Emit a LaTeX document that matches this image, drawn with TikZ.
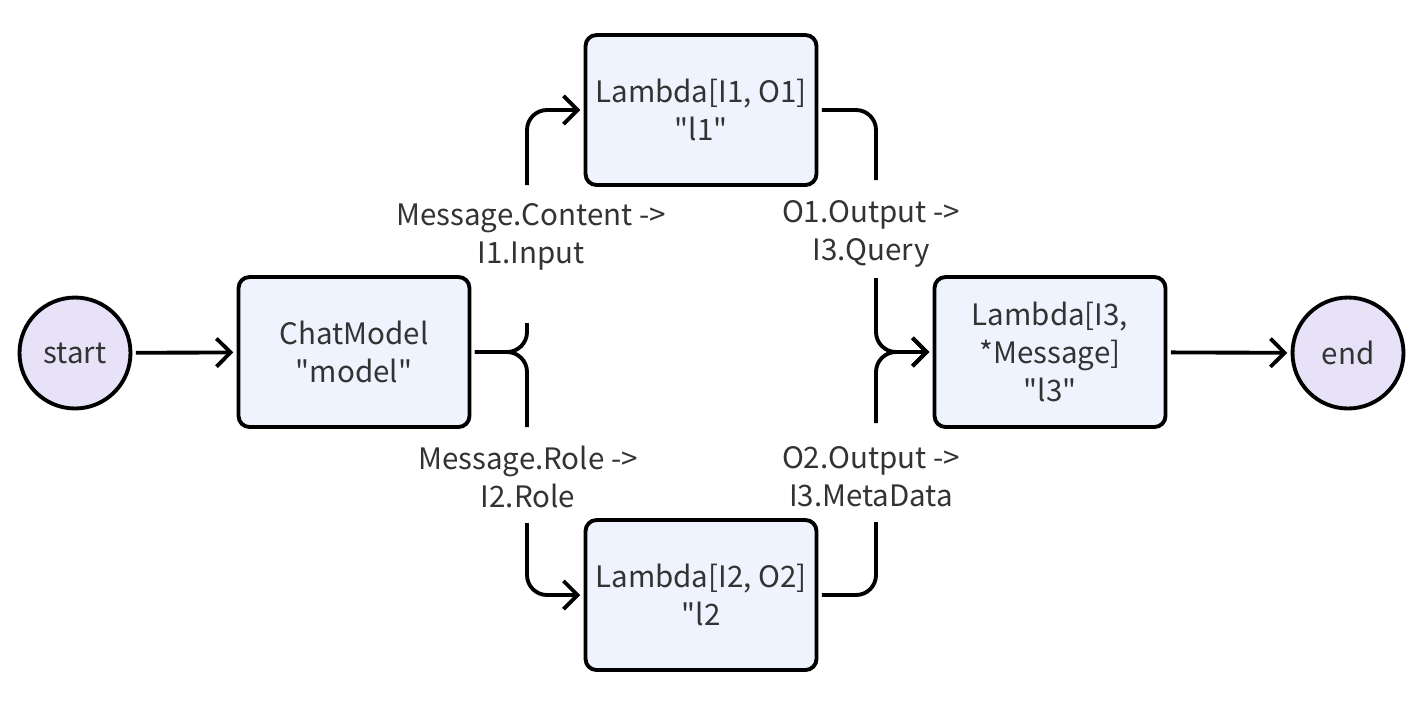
\documentclass[tikz,border=0pt]{standalone}
\usepackage{fontspec}
\setmainfont{Noto Sans CJK SC}[Ligatures=TeXOff]
\usetikzlibrary{arrows.meta}
\definecolor{boxfill}{HTML}{EEF3FD}
\definecolor{termfill}{HTML}{E8E2F8}
\definecolor{ink}{HTML}{333333}

\begin{document}
\begin{tikzpicture}[x=0.02cm, y=-0.02cm,
        txt/.style={text=ink, align=center, font=\fontsize{16.8}{21.5}\selectfont},
        box/.style={txt, draw, line width=2.2pt, rounded corners=0.22cm, fill=boxfill,
            minimum width=4.62cm, minimum height=3.0cm, outer sep=3pt},
        term/.style={txt, circle, draw, line width=2.2pt, fill=termfill,
            minimum size=2.22cm, outer sep=3pt},
        link/.style={line width=2.2pt, rounded corners=0.4cm},
        tip/.style={-{Straight Barb[length=8pt,width=16pt]}},
        lbl/.style={txt, inner sep=0pt}]
    \useasboundingbox[fill=white] (0,0) rectangle (1422,701);
    \node[term] (start) at (75,353) {start};
    \node[box] (model) at (354,352) {ChatModel\\"model"};
    \node[box] (l1) at (701,110) {Lambda[I1, O1]\\"l1"};
    \node[box] (l2) at (701,595) {Lambda[I2, O2]\\"l2};
    \node[box] (l3) at (1050,352) {Lambda[I3,\\*Message]\\"l3"};
    \node[term] (end) at (1348,353) {end};
    \node[lbl] (lab1) at (531,237) {Message.Content ->\\I1.Input};
    \node[lbl] (lab2) at (528,477) {Message.Role ->\\I2.Role};
    \node[lbl] (lab3) at (871,234) {O1.Output ->\\I3.Query};
    \node[lbl] (lab4) at (871,477) {O2.Output ->\\I3.MetaData};
    \coordinate (j1) at (527,323);
    \coordinate (j2) at (527,185);
    \coordinate (j3) at (527,427);
    \coordinate (j4) at (527,523);
    \coordinate (k1) at (876,180);
    \coordinate (k2) at (876,278);
    \coordinate (k3) at (876,423);
    \coordinate (k4) at (876,522);
    \draw[link, tip] (start) -- (model);
    \draw[link] (model.east) -| (j1);
    \draw[link] (model.east) -| (j3);
    \draw[link, tip] (j2) |- (l1.west);
    \draw[link, tip] (j4) |- (l2.west);
    \draw[link] (l1.east) -| (k1);
    \draw[link] (l2.east) -| (k4);
    \draw[link, tip] (k2) |- (l3.west);
    \draw[link, tip] (k3) |- (l3.west);
    \draw[link, tip] (l3) -- (end);
\end{tikzpicture}
\end{document}
